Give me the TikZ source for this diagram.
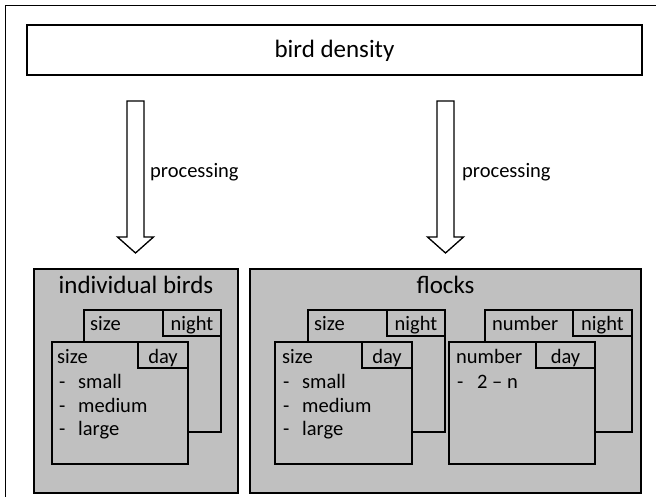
\documentclass[tikz,border=0pt]{standalone}
\usepackage{fontspec}
\setmainfont{Carlito}
\begin{document}
\begin{tikzpicture}[x=1pt,y=-1pt,
  frameline/.style={line width=1.6pt},
  topbox/.style={frameline,draw=black,fill=white},
  groupbox/.style={frameline,draw=black,fill=groupgray},
  card/.style={frameline,draw=black,fill=groupgray},
  tab/.style={frameline,draw=black},
  blockarrow/.style={line width=1.3pt,draw=black,fill=white},
  title/.style={font=\fontsize{25}{30}\selectfont,inner sep=0pt,anchor=base},
  txt/.style={font=\fontsize{20.5}{24}\selectfont,inner sep=0pt,anchor=base west},
  tabtxt/.style={font=\fontsize{20.5}{24}\selectfont,inner sep=0pt,anchor=base},
]
\definecolor{groupgray}{RGB}{192,192,192}
\useasboundingbox (0,0) rectangle (656,497);

% page frame (only left and top edges fall inside the page)
\draw[line width=1.2pt] (5.5,497) -- (5.5,5.5) -- (656,5.5);

% source box
\draw[topbox] (27,25) rectangle (642,75);
\node[title] (density) at (334.5,58) {bird density};

% processing arrows
\foreach \cx/\nm in {135.5/L,445.5/R}{
  \coordinate (arrtop\nm) at (\cx,101);
  \draw[blockarrow] (\cx-8.5,101) -- (\cx+8.5,101) -- (\cx+8.5,237) -- (\cx+18,237)
     -- (\cx,253) -- (\cx-18,237) -- (\cx-8.5,237) -- cycle;
}
\node[txt] (procL) at (150,178) {processing};
\node[txt] (procR) at (462,178) {processing};

% individual birds group
\draw[groupbox] (34,269) rectangle (238,493);
\node[title] (indiv) at (136,293) {individual birds};
% night card
\draw[card] (84,310) rectangle (221,432);
\draw[tab] (163,310) rectangle (221,336);
\node[txt] (inSizeN) at (90,330) {size};
\node[tabtxt] (inNight) at (192,330) {night};
% day card
\draw[card] (52,342) rectangle (188,464);
\draw[tab] (138,342) rectangle (188,368);
\node[txt] (inSizeD) at (57,363) {size};
\node[tabtxt] (inDay) at (163,363) {day};
\node[txt] at (59,388) {-}; \node[txt] (inSmall) at (78,388) {small};
\node[txt] at (59,412) {-}; \node[txt] (inMedium) at (78,412) {medium};
\node[txt] at (59,435) {-}; \node[txt] (inLarge) at (78,435) {large};

% flocks group
\draw[groupbox] (250,269) rectangle (641,493);
\node[title] (flocks) at (445.5,293) {flocks};
% size cards
\draw[card] (308,310) rectangle (445,432);
\draw[tab] (387,310) rectangle (445,336);
\node[txt] (flSizeN) at (314,330) {size};
\node[tabtxt] (flNight) at (416,330) {night};
\draw[card] (275,342) rectangle (412,464);
\draw[tab] (362,342) rectangle (412,368);
\node[txt] (flSizeD) at (282,363) {size};
\node[tabtxt] (flDay) at (387,363) {day};
\node[txt] at (283,388) {-}; \node[txt] (flSmall) at (302,388) {small};
\node[txt] at (283,412) {-}; \node[txt] (flMedium) at (302,412) {medium};
\node[txt] at (283,435) {-}; \node[txt] (flLarge) at (302,435) {large};
% number cards
\draw[card] (485,310) rectangle (632,432);
\draw[tab] (573,310) rectangle (632,336);
\node[txt] (flNumN) at (492,330) {number};
\node[tabtxt] (flNightB) at (602.5,330) {night};
\draw[card] (449,342) rectangle (595,464);
\draw[tab] (536,342) rectangle (595,368);
\node[txt] (flNumD) at (456,363) {number};
\node[tabtxt] (flDayB) at (565.5,363) {day};
\node[txt] at (457,388) {-}; \node[txt] (flRange) at (477,388) {2 – n};
\end{tikzpicture}
\end{document}
